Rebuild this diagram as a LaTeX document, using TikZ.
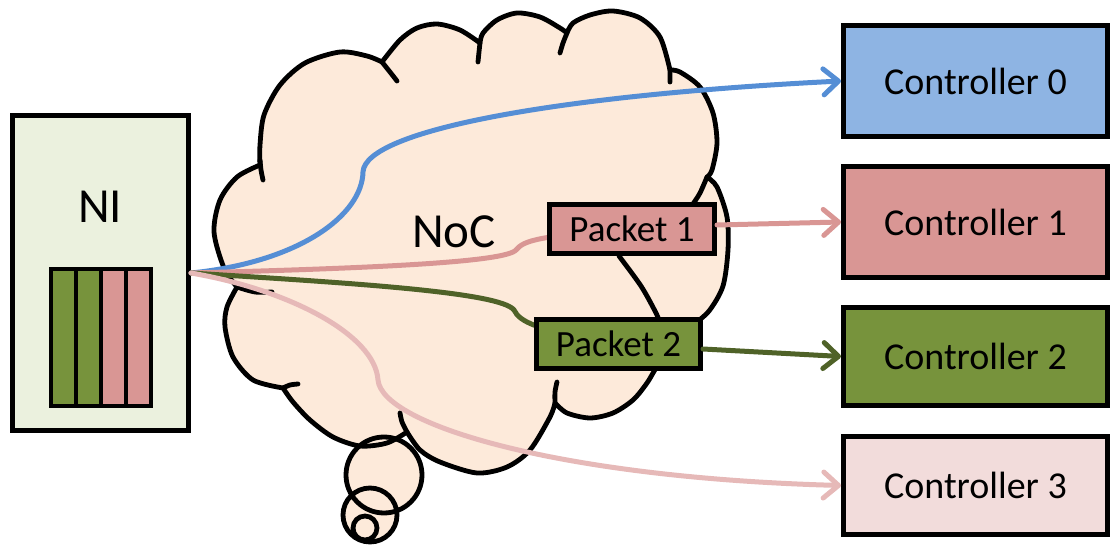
\documentclass[tikz,border=0pt]{standalone}
\usepackage{fontspec}
\setmainfont{Carlito}
\usetikzlibrary{positioning,arrows.meta}
\definecolor{niback}{HTML}{EBF1DE}
\definecolor{cloudback}{HTML}{FDEADA}
\definecolor{ctrlblue}{HTML}{8EB4E3}
\definecolor{ctrlred}{HTML}{D99694}
\definecolor{ctrlgreen}{HTML}{77933C}
\definecolor{ctrlpink}{HTML}{F2DCDB}
\definecolor{pathblue}{HTML}{558ED5}
\definecolor{pathred}{HTML}{D99694}
\definecolor{pathgreen}{HTML}{4F6228}
\definecolor{pathpink}{HTML}{E6B9B8}

\begin{document}
\begin{tikzpicture}[x=0.5pt, y=-0.5pt,
  ctrl/.style={rectangle, draw, line width=2.4pt, minimum width=132.1pt, inner sep=0pt, font=\fontsize{19}{23}\selectfont},
  packet/.style={rectangle, draw, line width=2.4pt, minimum height=24.6pt, inner sep=0pt, font=\fontsize{18.5}{22}\selectfont},
  route/.style={line width=2.5pt, line cap=round},
  tip/.style={-{Straight Barb[round, length=7.5pt, width=13pt]}},
  cloudline/.style={line width=2.4pt, line cap=round, line join=round}]
  \useasboundingbox (0,0) rectangle (1110,545);

  % thought bubbles, fill first
  \fill[cloudback] (384,475) circle[radius=19pt] (370,515) circle[radius=13.5pt] (365,528) circle[radius=6pt];

  % the NoC cloud
  \filldraw[cloudline, fill=cloudback]
    plot[smooth] coordinates {(237,287) (224,268) (214,232) (220,200) (237,177) (260,165)}
    -- plot[smooth] coordinates {(260,165) (260,145) (264,115) (280,85) (305,63) (340,52) (367,56) (382,62)}
    -- plot[smooth] coordinates {(382,62) (400,40) (417,28) (437,24) (460,30) (480,43)}
    -- plot[smooth] coordinates {(480,43) (483,33) (497,20) (517,13) (540,17) (560,28) (567,33)}
    -- plot[smooth] coordinates {(567,33) (573,23) (590,15) (613,11) (640,18) (660,37) (670,70)}
    -- plot[smooth] coordinates {(670,70) (680,72) (700,87) (713,113) (717,143) (712,170) (707,177)}
    -- plot[smooth] coordinates {(707,177) (717,187) (727,217) (728,250) (723,286) (709,311) (691,327) (680,340)}
    -- plot[smooth] coordinates {(680,340) (660,362) (647,383) (633,400) (613,413) (590,418) (567,413) (555,403)}
    -- plot[smooth] coordinates {(555,403) (550,417) (530,450) (507,467) (477,473) (440,462) (420,450) (407,432)}
    -- plot[smooth] coordinates {(407,432) (387,443) (360,446) (333,437) (310,420) (293,402) (283,388)}
    -- plot[smooth] coordinates {(283,388) (253,380) (233,357) (225,327) (227,307) (237,287)}
    -- cycle;
  \draw[cloudline]
    plot[smooth] coordinates {(237,287) (255,292) (272,292)}
    plot[smooth] coordinates {(260,160) (261,170) (263,180)}
    plot[smooth] coordinates {(382,62) (390,72) (397,81)}
    plot[smooth] coordinates {(480,43) (479,52) (478,62)}
    plot[smooth] coordinates {(567,33) (563,43) (560,53)}
    plot[smooth] coordinates {(670,70) (670,76) (670,82)}
    plot[smooth] coordinates {(707,177) (700,193) (693,204)}
    plot[smooth] coordinates {(555,403) (555,392) (557,382)}
    plot[smooth] coordinates {(407,432) (402,422) (400,413)}
    plot[smooth] coordinates {(283,388) (290,385) (298,384)}
    plot[smooth] coordinates {(619,256) (641,286) (655,311) (659,320)};
  \draw[cloudline] (384,475) circle[radius=19pt] (370,515) circle[radius=13.5pt] (365,528) circle[radius=6pt];
  \node[font=\fontsize{24.5}{29}\selectfont] (noc) at (454,232) {NoC};

  % network interface with its buffer
  \node[rectangle, draw, line width=2.4pt, fill=niback, minimum width=88.1pt, minimum height=157.6pt] (ni) at (100.5,273) {};
  \node[font=\fontsize{24.5}{29}\selectfont] (nilabel) at (100,207) {NI};
  \foreach \c [count=\i from 0] in {ctrlgreen,ctrlgreen,ctrlred,ctrlred}
    \filldraw[fill=\c, line width=2.4pt] ({51+25*\i},269) rectangle ++(25,137);

  % memory controllers
  \node[ctrl, fill=ctrlblue, minimum height=55.6pt] (ctrl0) at (975.5,81) {Controller 0};
  \node[ctrl, fill=ctrlred, minimum height=55.6pt, below=12.5pt of ctrl0] (ctrl1) {Controller 1};
  \node[ctrl, fill=ctrlgreen, minimum height=49.1pt, below=12.5pt of ctrl1] (ctrl2) {Controller 2};
  \node[ctrl, fill=ctrlpink, minimum height=49.1pt, below=13pt of ctrl2] (ctrl3) {Controller 3};

  % routes through the NoC
  \coordinate (pk1c) at (632,229);
  \coordinate (pk2c) at (618.5,344);
  \draw[route, pathblue, tip] (ni.east) .. controls (300,262) and (362,215) .. (363,172)
    .. controls (365,130) and (560,95) .. (ctrl0.west);
  \draw[route, pathred] (ni.east) .. controls (380,268) and (505,262) .. (516,250)
    .. controls (524,240) and (540,236) .. (pk1c);
  \draw[route, pathgreen] (ni.east) .. controls (350,283) and (500,292) .. (514,310)
    .. controls (520,322) and (535,330) .. (pk2c);
  \draw[route, pathpink, tip] (ni.east) .. controls (290,290) and (375,335) .. (378,380)
    .. controls (382,425) and (560,478) .. (ctrl3.west);

  % packets
  \node[packet, fill=ctrlred, minimum width=82.6pt] (pk1) at (pk1c) {Packet 1};
  \node[packet, fill=ctrlgreen, minimum width=82.1pt] (pk2) at (pk2c) {Packet 2};
  \draw[route, pathred, tip] ([yshift=2pt]pk1.east) -- (ctrl1.west);
  \draw[route, pathgreen, tip] ([yshift=-2.5pt]pk2.east) -- (ctrl2.west);
\end{tikzpicture}
\end{document}
